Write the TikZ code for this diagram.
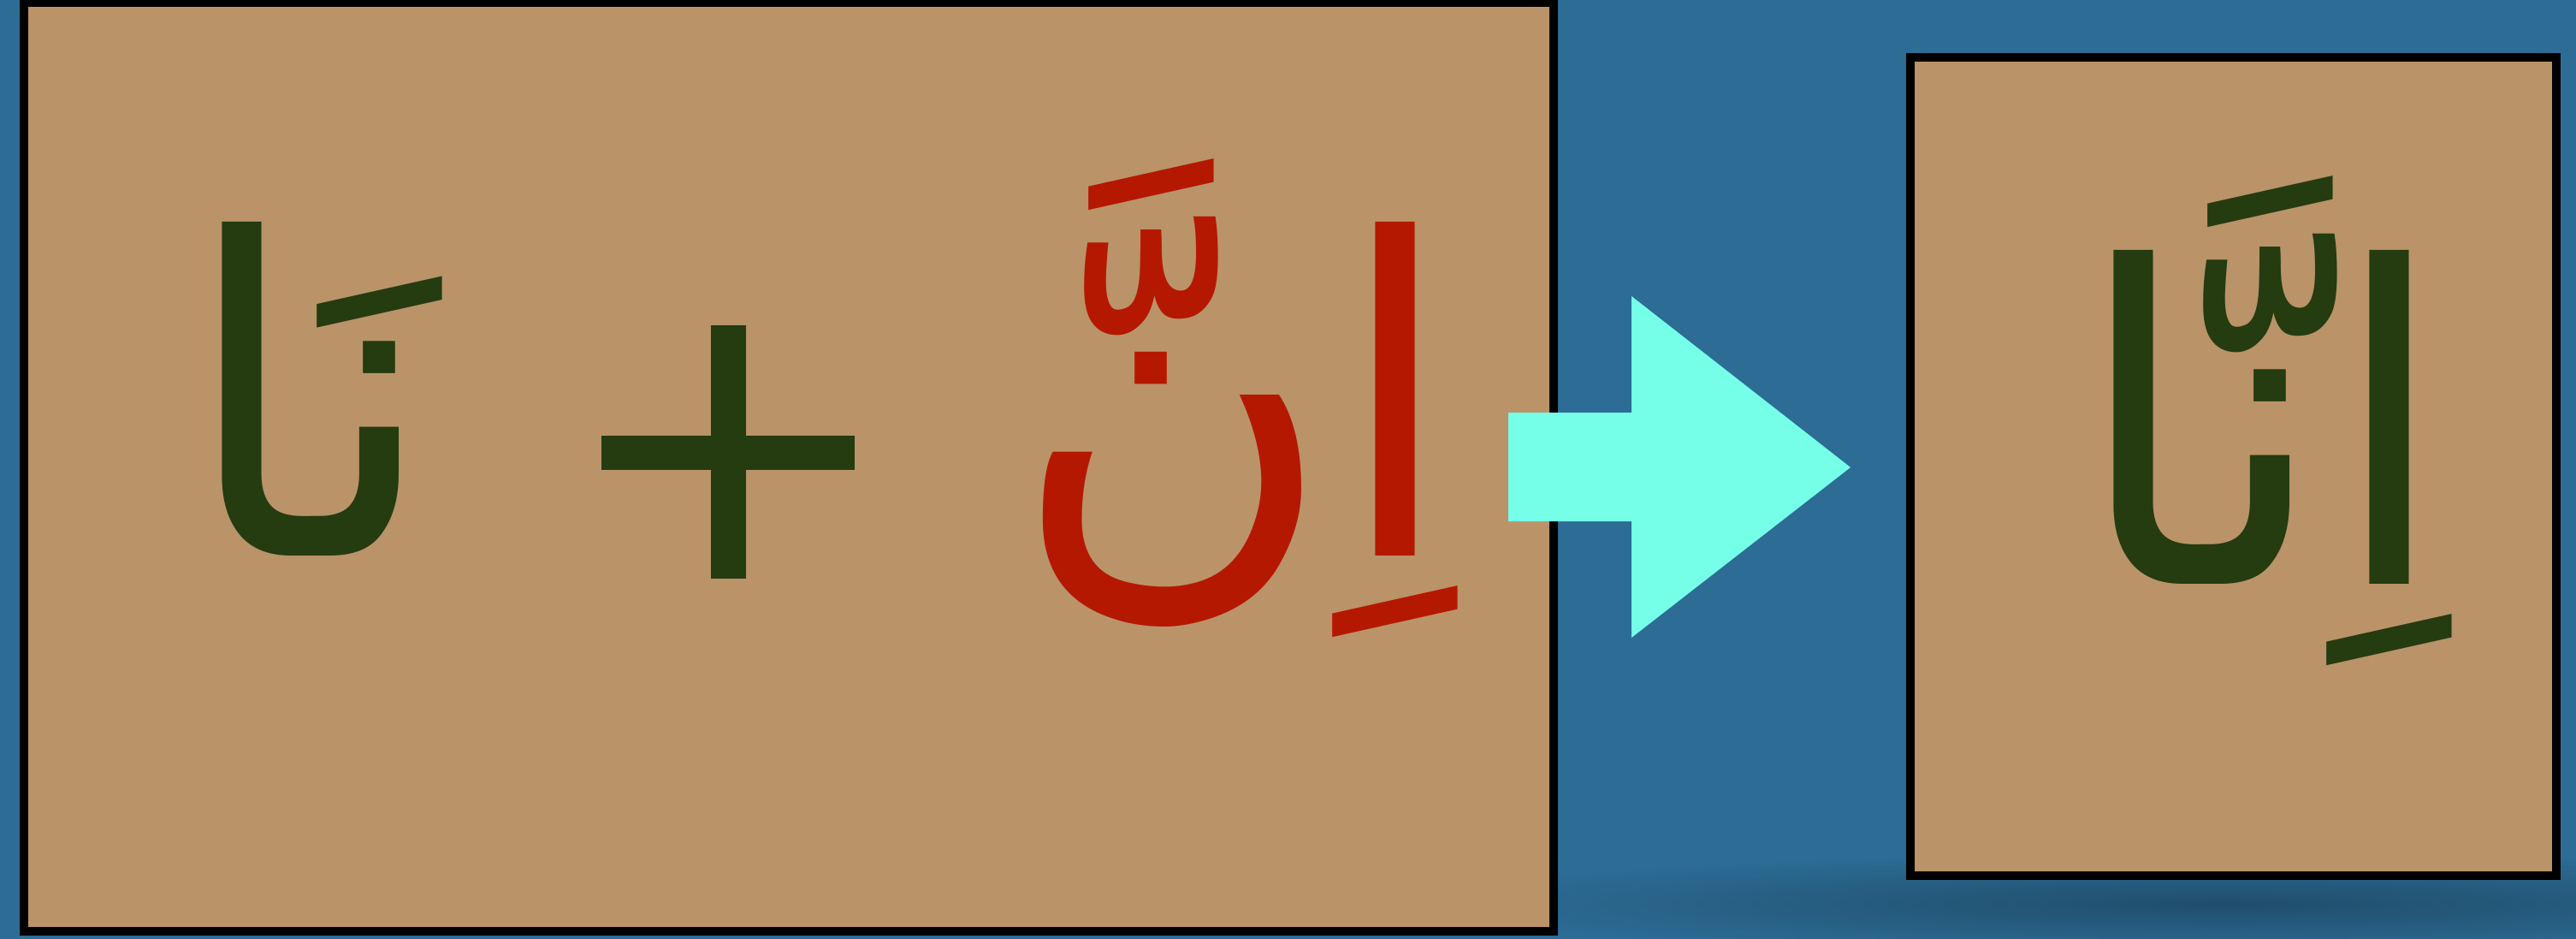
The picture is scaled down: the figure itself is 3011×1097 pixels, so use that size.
\documentclass[tikz,border=0pt]{standalone}
\usepackage{fontspec}
\usepackage{xcolor}
\newfontfamily\arabicfont[Script=Arabic]{DejaVu Sans}
\TeXXeTstate=1
\definecolor{bgblue}{HTML}{2C6C95}
\definecolor{sand}{HTML}{BA9369}
\definecolor{leafgreen}{HTML}{253B10}
\definecolor{brickred}{HTML}{B51800}
\definecolor{aqua}{HTML}{75FFE8}
\definecolor{shadowblue}{HTML}{204E6C}

\begin{document}
\begin{tikzpicture}[
x=0.01cm,y=-0.01cm,
panel/.style={draw=black, line width=1.05mm, fill=sand},
word/.style={inner sep=0pt, font=\arabicfont\fontsize{146}{146}\selectfont},
plusbar/.style={fill=leafgreen},
bigarrow/.style={fill=aqua}
]
\useasboundingbox (0,0) rectangle (3011,1097);
\fill[bgblue] (0,0) rectangle (3011,1097);
% soft shadow under the result box
\shade[inner color=shadowblue, outer color=bgblue] (2600,1056) ellipse [x radius=9.5cm, y radius=0.6cm];
% the two panels
\draw[panel] (28,3) rectangle (1816,1088);
\draw[panel] (2233,67) rectangle (2988,1023);
% plus sign
\fill[plusbar] (831,380) rectangle (872,676);
\fill[plusbar] (703,509) rectangle (999,549);
% arrow to the result
\fill[bigarrow] (1763,482) -- (1907,482) -- (1907,346) -- (2163,546) -- (1907,745) -- (1907,609) -- (1763,609) -- cycle;
% words
\node[word, text=leafgreen, anchor=base east] (na) at (512,649) {\beginR نَا\endR};
\node[word, text=brickred, anchor=base east] (inna) at (1703,649) {\beginR اِنَّ\endR};
\node[word, text=leafgreen, anchor=base east] (innaa) at (2865,682) {\beginR اِنَّا\endR};
\end{tikzpicture}
\end{document}
